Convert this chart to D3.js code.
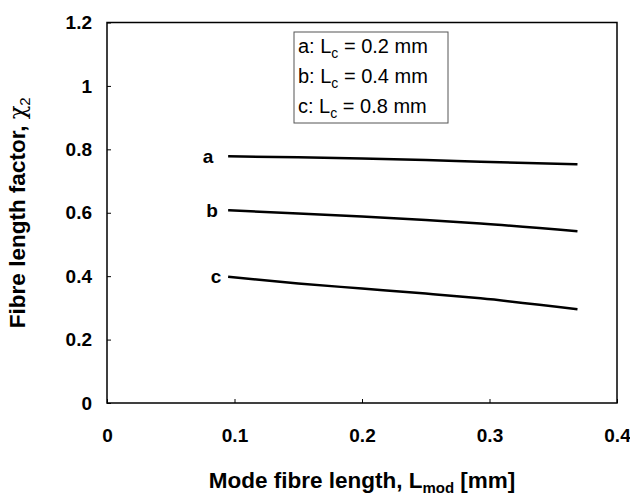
<!DOCTYPE html>
<html>
<head>
<meta charset="utf-8">
<script src="https://cdn.jsdelivr.net/npm/d3@7"></script>
<style>
  body { margin: 0; background: #fff; }
  text { font-family: "Liberation Sans", Arial, sans-serif; fill: #000; }
</style>
</head>
<body>
<div id="chart"></div>
<script>

// data
var lmod = [0.095, 0.15, 0.2, 0.25, 0.293, 0.369];
var chiA = [0.778, 0.775, 0.771, 0.766, 0.761, 0.753];
var chiB = [0.608, 0.598, 0.588, 0.577, 0.566, 0.542];
var chiC = [0.398, 0.377, 0.361, 0.345, 0.330, 0.296];
var curveNames = ["a", "b", "c"];
var legendLc = ["0.2", "0.4", "0.8"];
var xTicks = [0, 0.1, 0.2, 0.3, 0.4];
var yTicks = [0, 0.2, 0.4, 0.6, 0.8, 1, 1.2];

var margin = {top: 22.5, right: 13, bottom: 93, left: 107},
    width = 630 - margin.left - margin.right,
    height = 496 - margin.top - margin.bottom;

var x = d3.scaleLinear().domain([0, 0.4]).range([0, width]);
var y = d3.scaleLinear().domain([0, 1.2]).range([height, 0]);

var svg = d3.select("#chart").append("svg")
    .attr("width", 630)
    .attr("height", 496)
  .append("g")
    .attr("transform", "translate(" + margin.left + "," + margin.top + ")");

// frame
svg.append("rect")
    .attr("width", width)
    .attr("height", height)
    .attr("fill", "none")
    .attr("stroke", "#000")
    .attr("stroke-width", 1.5);

var xAxis = d3.axisBottom(x).tickValues(xTicks).tickSizeInner(-4).tickSizeOuter(0)
    .tickPadding(26).tickFormat(d3.format("~g"));
var yAxis = d3.axisLeft(y).tickValues(yTicks).tickSizeInner(-4).tickSizeOuter(0)
    .tickPadding(15).tickFormat(d3.format("~g"));

svg.append("g")
    .attr("class", "x_axis")
    .attr("transform", "translate(0," + height + ")")
    .call(xAxis);

svg.append("g")
    .attr("class", "y_axis")
    .call(yAxis);

svg.selectAll(".domain").remove();
svg.selectAll(".tick line").attr("stroke", "#000").attr("stroke-width", 1);
svg.selectAll(".tick text")
    .style("font-family", "'Liberation Sans', Arial, sans-serif")
    .style("font-size", "19px")
    .style("font-weight", "bold")
    .attr("fill", "#000");

// curves
var series = [chiA, chiB, chiC];
var line = d3.line()
    .x(function(d, i) { return x(lmod[i]); })
    .y(function(d) { return y(d); })
    .curve(d3.curveMonotoneX);

svg.selectAll(".curve")
    .data(series)
  .enter().append("path")
    .attr("class", "curve")
    .attr("d", line)
    .attr("fill", "none")
    .attr("stroke", "#000")
    .attr("stroke-width", 2.5);

var labelOffset = [20, 16, 12];
svg.selectAll(".curve_label")
    .data(series)
  .enter().append("text")
    .attr("class", "curve_label")
    .attr("x", function(d, i) { return x(lmod[0]) - labelOffset[i]; })
    .attr("y", function(d) { return y(d[0]); })
    .attr("dy", "0.35em")
    .attr("text-anchor", "middle")
    .style("font-size", "19px")
    .style("font-weight", "bold")
    .text(function(d, i) { return curveNames[i]; });

// legend
var legend = svg.append("g")
    .attr("transform", "translate(" + (294 - margin.left) + "," + (32 - margin.top) + ")");

legend.append("rect")
    .attr("width", 154)
    .attr("height", 91)
    .attr("fill", "#fff")
    .attr("stroke", "#555")
    .attr("stroke-width", 1);

legend.selectAll(".leg_row")
    .data(legendLc)
  .enter().append("text")
    .attr("class", "leg_row")
    .attr("x", 4)
    .attr("y", function(d, i) { return 21 + i * 30; })
    .style("font-size", "20px")
    .each(function(d, i) {
        var t = d3.select(this);
        t.append("tspan").text(curveNames[i] + ": L");
        t.append("tspan").attr("dy", 5).style("font-size", "14px").text("c");
        t.append("tspan").attr("dy", -5).text(" = " + d + " mm");
    });

// axis titles
var xt = svg.append("text")
    .attr("x", width / 2)
    .attr("y", height + 85)
    .attr("text-anchor", "middle")
    .style("font-size", "22.5px")
    .style("font-weight", "bold");
xt.append("tspan").text("Mode fibre length, L");
xt.append("tspan").attr("dy", 5).style("font-size", "15px").text("mod");
xt.append("tspan").attr("dy", -5).text(" [mm]");

var yt = svg.append("text")
    .attr("transform", "translate(" + (25 - margin.left) + "," + (height / 2) + ") rotate(-90)")
    .attr("text-anchor", "middle")
    .style("font-size", "22.5px")
    .style("font-weight", "bold");
yt.append("tspan").text("Fibre length factor, ");
yt.append("tspan").style("font-weight", "normal").style("font-family", "'DejaVu Serif', serif").text("\u03c7");
yt.append("tspan").attr("dy", 5).style("font-size", "15px").style("font-weight", "normal").text("2");

</script>
</body>
</html>
